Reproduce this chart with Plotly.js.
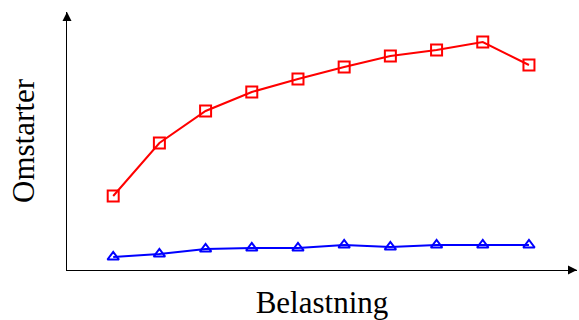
<!DOCTYPE html>
<html><head><meta charset="utf-8">
<script src="https://cdn.plot.ly/plotly-3.0.1.min.js"></script>
<style>html,body{margin:0;padding:0;background:#fff}</style>
</head><body><div id="chart" style="width:579px;height:320px"></div>
<script>
const belastning = [1, 2, 3, 4, 5, 6, 7, 8, 9, 10];
const omstarterRed = [74, 127, 159, 178, 191, 203, 214, 220, 228, 205];
const omstarterBlue = [13, 16, 21, 22, 22, 25, 23, 25, 25, 25];

const font = "'Liberation Serif', 'DejaVu Serif', serif";
const traces = [
  {x: belastning, y: omstarterRed, mode: 'lines+markers', type: 'scatter',
   line: {color: '#ff0000', width: 2},
   marker: {symbol: 'square-open', size: 11, color: '#ff0000', line: {width: 2, color: '#ff0000'}}},
  {x: belastning, y: omstarterBlue, mode: 'lines+markers', type: 'scatter',
   line: {color: '#0000ff', width: 2},
   marker: {symbol: 'triangle-up-open', size: 10, color: '#0000ff', line: {width: 2, color: '#0000ff'}}}
];
const layout = {
  width: 579, height: 320,
  margin: {l: 67, r: 2, t: 12, b: 50},
  showlegend: false,
  paper_bgcolor: '#fff', plot_bgcolor: '#fff',
  xaxis: {range: [0, 11.04], showgrid: false, zeroline: false, showticklabels: false, ticks: '',
          showline: true, linecolor: '#000', linewidth: 1,
          title: {text: 'Belastning', font: {family: font, size: 31, color: '#000'}, standoff: 22}},
  yaxis: {range: [0, 258], showgrid: false, zeroline: false, showticklabels: false, ticks: '',
          showline: true, linecolor: '#000', linewidth: 1,
          title: {text: 'Omstarter', font: {family: font, size: 31, color: '#000'}, standoff: 22}},
  annotations: [
    {xref: 'paper', yref: 'paper', x: 1, y: 0, ax: -10, ay: 0, axref: 'pixel', ayref: 'pixel',
     showarrow: true, arrowhead: 2, arrowsize: 1.8, arrowwidth: 1, arrowcolor: '#000', text: ''},
    {xref: 'paper', yref: 'paper', x: 0, y: 1, ax: 0, ay: 10, axref: 'pixel', ayref: 'pixel',
     showarrow: true, arrowhead: 2, arrowsize: 1.8, arrowwidth: 1, arrowcolor: '#000', text: ''}
  ]
};
Plotly.newPlot('chart', traces, layout, {displayModeBar: false, staticPlot: true});
</script></body></html>
